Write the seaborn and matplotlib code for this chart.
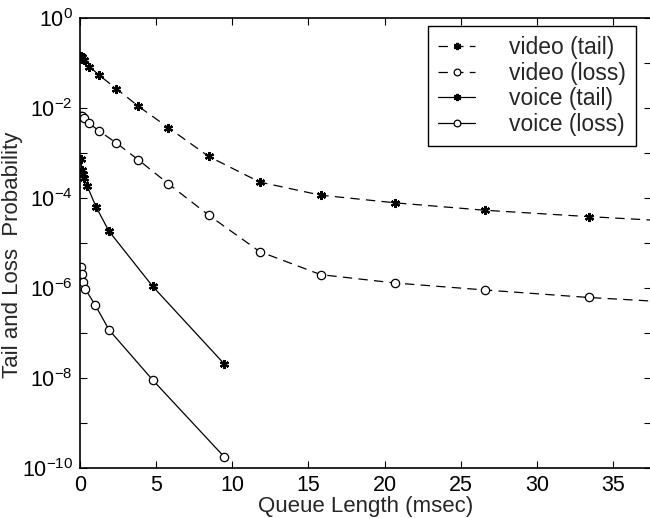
import numpy as np
import pandas as pd
import matplotlib
matplotlib.use("Agg")
import matplotlib.pyplot as plt
import seaborn as sns

# ---- data ----
video_x = [0.05, 0.15, 0.25, 0.62, 1.28, 2.38, 3.82, 5.8, 8.45, 11.8, 15.8, 20.7, 26.6, 33.4, 41.2]
video_tail = [0.1445, 0.138, 0.1175, 0.0851, 0.0537, 0.0275, 0.0112, 3.72e-3, 8.5e-4,
              2.29e-4, 1.17e-4, 7.9e-5, 5.4e-5, 3.9e-5, 2.8e-5]
video_loss = [6.9e-3, 6.6e-3, 6.0e-3, 4.6e-3, 3.1e-3, 1.7e-3, 7.2e-4, 2.1e-4, 4.2e-5,
              6.5e-6, 2.0e-6, 1.3e-6, 9.1e-7, 6.2e-7, 4.4e-7]
voice_tail_x = [0.07, 0.12, 0.2, 0.27, 0.48, 1.05, 1.9, 4.77, 9.45]
voice_tail = [7.4e-4, 4.2e-4, 3.5e-4, 2.8e-4, 1.86e-4, 6.5e-5, 1.86e-5, 1.1e-6, 2.1e-8]
voice_loss_x = [0.07, 0.13, 0.22, 0.33, 1.0, 1.92, 4.77, 9.45]
voice_loss = [2.95e-6, 2.04e-6, 1.38e-6, 9.8e-7, 4.2e-7, 1.17e-7, 9.1e-9, 1.8e-10]

series_names = ["video (tail)", "video (loss)", "voice (tail)", "voice (loss)"]
x_ticks = [0, 5, 10, 15, 20, 25, 30, 35]
y_decades = list(range(-10, 1))

sns.set_style("ticks")
plt.rcParams["font.family"] = ["Liberation Sans", "DejaVu Sans"]
plt.rcParams["mathtext.fontset"] = "custom"
plt.rcParams["mathtext.rm"] = "Liberation Sans"

fig = plt.figure(figsize=(6.5, 5.18), dpi=100)
ax = fig.add_axes([0.123, 0.0965, 0.879, 0.868])

ASTER = (6, 2, 0)
specs = [
    (video_x, video_tail, series_names[0], "--", ASTER),
    (video_x, video_loss, series_names[1], "--", "o"),
    (voice_tail_x, voice_tail, series_names[2], "-", ASTER),
    (voice_loss_x, voice_loss, series_names[3], "-", "o"),
]
for xs, ys, name, ls, mk in specs:
    df = pd.DataFrame({"x": xs, "y": ys})
    is_circ = mk == "o"
    sns.lineplot(data=df, x="x", y="y", ax=ax, color="black", linewidth=0.9,
                 marker=mk, markersize=6 if is_circ else 6.5,
                 markerfacecolor="white" if is_circ else "black",
                 markeredgecolor="black", markeredgewidth=0.9 if is_circ else 1.6,
                 estimator=None, sort=False, label=name)
    ln = ax.lines[-1]
    ln.set_linestyle(ls)
    if ls == "--":
        ln.set_dashes([7.5, 5])

ax.set_yscale("log")
ax.set_xlim(0, 37.5)
ax.set_ylim(1e-10, 1)
ax.set_xticks(x_ticks)
ax.set_xticklabels([str(t) for t in x_ticks])
ax.set_yticks([10.0 ** d for d in y_decades])
ax.set_yticklabels([r"$10^{%d}$" % d if d % 2 == 0 else "" for d in y_decades])
ax.minorticks_off()
ax.tick_params(direction="in", top=True, right=True, length=5, width=0.8,
               labelsize=15.5, colors="black", pad=5)
for s in ax.spines.values():
    s.set_visible(True)
    s.set_linewidth(1.2)
    s.set_color("black")

ax.set_xlabel("Queue Length (msec)", fontsize=16, labelpad=0)
ax.set_ylabel("Tail and Loss  Probability", fontsize=16)
ax.yaxis.set_label_coords(-0.099, 0.474)

leg = ax.legend(loc="upper right", bbox_to_anchor=(0.974, 0.984), borderaxespad=0,
                fontsize=16.5, frameon=True, fancybox=False, edgecolor="black",
                framealpha=1, handlelength=1.6, handletextpad=1.5, borderpad=0.45,
                labelspacing=0.12, markerscale=0.8)
leg.get_frame().set_linewidth(1.0)

fig.savefig("out.png", dpi=100)
